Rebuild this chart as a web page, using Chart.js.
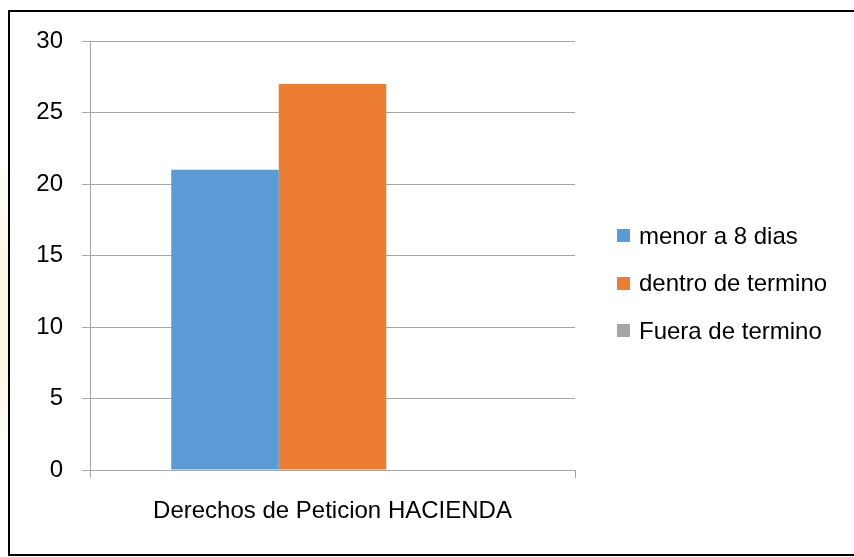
<!DOCTYPE html>
<html>
<head>
<meta charset="utf-8">
<script src="https://cdn.jsdelivr.net/npm/chart.js@4/dist/chart.umd.min.js"></script>
<style>
  html, body { margin: 0; padding: 0; background: #fff; }
  body {
    width: 854px; height: 557px; position: relative; overflow: hidden;
    font-family: "Liberation Sans", Arial, sans-serif;
  }
  /* faint page decoration peeking out left of the frame */
  .page-glow {
    position: absolute; left: 0; top: 170px; width: 9px; height: 270px;
    background: linear-gradient(to bottom, #fffdf7, #fdf6e0 40%, #fdf6e0 70%, #fffdf7);
  }
  .frame {
    position: absolute; left: 8px; top: 10px; width: 900px; height: 542px;
    border: 2px solid #000;
  }
  canvas { position: absolute; left: 0; top: 0; }
  .legend { position: absolute; left: 617px; top: 212px; margin: 0; padding: 0; list-style: none; }
  .legend li { display: flex; align-items: center; height: 47.5px; font-size: 24px; color: #000; white-space: nowrap; }
  .legend .swatch { width: 13px; height: 13px; margin-right: 9px; flex: none; }
</style>
</head>
<body>
<div class="page-glow"></div>
<canvas id="chart" width="854" height="557"></canvas>
<ul class="legend" id="legend"></ul>
<div class="frame"></div>
<script>
const categories = ["Derechos de Peticion HACIENDA"];
const seriesNames = ["menor a 8 dias", "dentro de termino", "Fuera de termino"];
const menorA8Dias = [21];
const dentroDeTermino = [27];
const fueraDeTermino = [0];
const seriesColors = ["#5b9bd5", "#ed7d31", "#a5a5a5"];

const GRID = "#a6a6a6";
const FONT = { family: "'Liberation Sans', Arial, sans-serif", size: 24 };

const values = [menorA8Dias, dentroDeTermino, fueraDeTermino];
const datasets = seriesNames.map((name, i) => ({
  label: name,
  data: values[i],
  backgroundColor: seriesColors[i],
  borderWidth: 0,
  barPercentage: 1,
  categoryPercentage: 0.665,
}));

const chart = new Chart(document.getElementById("chart"), {
  type: "bar",
  data: { labels: categories, datasets },
  options: {
    responsive: false,
    animation: false,
    devicePixelRatio: 1,
    layout: { padding: { left: 36, top: 41, right: 279, bottom: 31 } },
    scales: {
      x: {
        grid: { drawOnChartArea: false, color: GRID, tickLength: 8 },
        border: { color: GRID },
        ticks: { color: "#000", font: FONT, padding: 19 },
        afterFit: (scale) => { scale.height = 56; },
      },
      y: {
        min: 0,
        max: 30,
        grid: { color: GRID, tickLength: 8 },
        border: { color: GRID },
        ticks: { stepSize: 5, color: "#000", font: FONT, padding: 19 },
        afterFit: (scale) => { scale.width = 54; },
      },
    },
    plugins: {
      // legend sits to the right of the plot, built below as plain HTML
      legend: { display: false },
      tooltip: { enabled: false },
    },
  },
});

const legendEl = document.getElementById("legend");
for (const ds of chart.data.datasets) {
  const item = document.createElement("li");
  const swatch = document.createElement("span");
  swatch.className = "swatch";
  swatch.style.background = ds.backgroundColor;
  item.append(swatch, ds.label);
  legendEl.append(item);
}
</script>
</body>
</html>
